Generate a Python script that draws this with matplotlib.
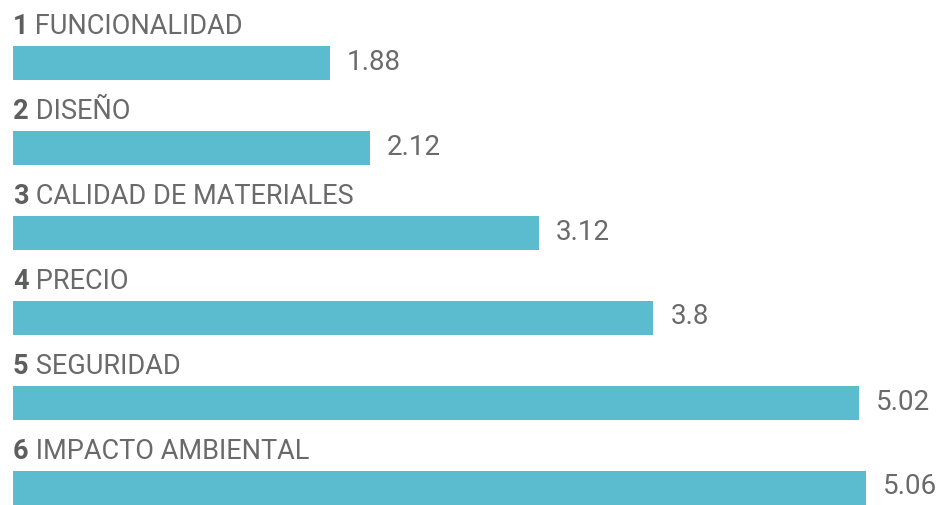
import matplotlib
matplotlib.use("Agg")
import matplotlib.pyplot as plt

ranks = ["1", "2", "3", "4", "5", "6"]
names = ["FUNCIONALIDAD", "DISEÑO", "CALIDAD DE MATERIALES", "PRECIO",
         "SEGURIDAD", "IMPACTO AMBIENTAL"]
values = [1.88, 2.12, 3.12, 3.8, 5.02, 5.06]
value_labels = ["1.88", "2.12", "3.12", "3.8", "5.02", "5.06"]

BAR_COLOR = "#5bbccf"
NUM_COLOR = "#5e5e5e"
TEXT_COLOR = "#6a6a6a"

plt.rcParams["font.family"] = ["Roboto", "DejaVu Sans"]

fig = plt.figure(figsize=(9.45, 5.05), dpi=100)
ax = fig.add_axes([0, 0, 1, 1])

px = 168.5  # pixels per unit on x
ax.set_xlim(-13 / px, (945 - 13) / px)
ax.set_ylim((505 - 63) / 85, -63 / 85)
ax.axis("off")

y = list(range(len(values)))
ax.barh(y, values, height=0.41, color=BAR_COLOR, align="center")

for i, (r, n, v, lab) in enumerate(zip(ranks, names, values, value_labels)):
    t = ax.text(0, i - 0.345, r, fontsize=19.5, fontweight="bold",
                color=NUM_COLOR, ha="left", va="baseline")
    ax.annotate(" " + n, xy=(1, 0), xycoords=t, fontsize=19.5,
                color=TEXT_COLOR, ha="left", va="bottom")
    ax.annotate(lab, xy=(v, i), xytext=(17, 1), textcoords="offset pixels",
                fontsize=20, color=TEXT_COLOR, ha="left", va="center")

fig.savefig("out.png", dpi=100)
